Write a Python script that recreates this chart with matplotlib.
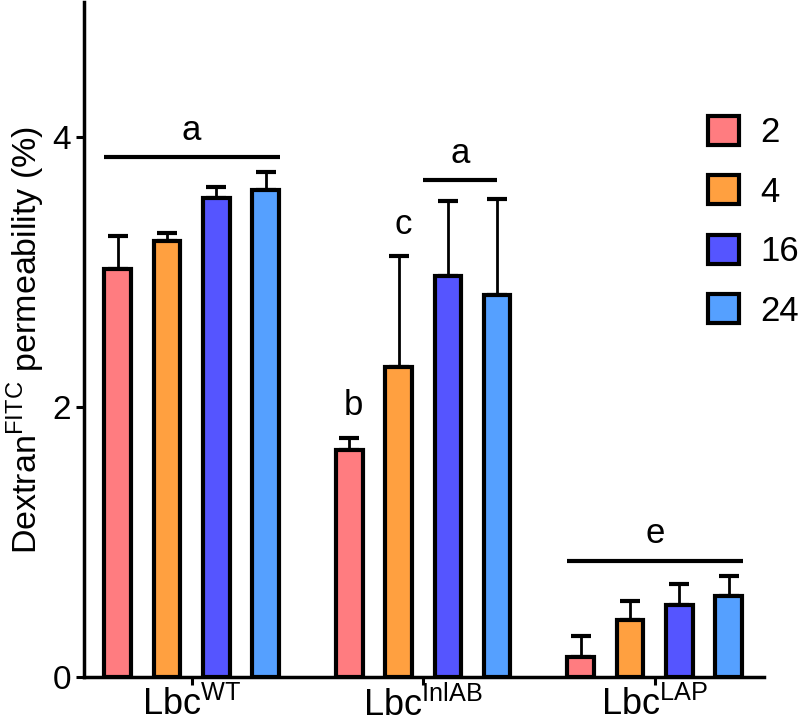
import matplotlib
matplotlib.use("Agg")
import matplotlib.pyplot as plt
import numpy as np
from matplotlib.patches import Patch

plt.rcParams['font.family'] = ['Liberation Sans', 'DejaVu Sans']

groups = ["Lbc$^{\\mathregular{WT}}$", "Lbc$^{\\mathregular{InlAB}}$", "Lbc$^{\\mathregular{LAP}}$"]
series = ["2", "4", "16", "24"]
colors = ["#FF7C80", "#FFA040", "#5555FF", "#55A0FF"]
means = {
    "2":  [3.02, 1.68, 0.15],
    "4":  [3.23, 2.30, 0.42],
    "16": [3.55, 2.97, 0.53],
    "24": [3.61, 2.83, 0.60],
}
errs = {
    "2":  [0.25, 0.09, 0.15],
    "4":  [0.06, 0.82, 0.14],
    "16": [0.08, 0.56, 0.16],
    "24": [0.13, 0.71, 0.15],
}
# significance annotations: (group, first bar, last bar, line level, letter)
sig_lines = [(0, 0, 3, 3.85, "a"), (1, 1.5, 3, 3.68, "a"), (2, 0, 3, 0.86, "e")]
sig_letters = [(1, 0, 2.01, "b"), (1, 1, 3.35, "c")]

fig = plt.figure(figsize=(8, 7.24), dpi=100)
ax = fig.add_axes([0.105, 0.065, 0.85, 0.932])

x = np.arange(len(groups))
step = 0.213
width = 0.115
offsets = (np.arange(len(series)) - 1.5) * step

for i, s in enumerate(series):
    pos = x + offsets[i]
    ax.bar(pos, means[s], width, color=colors[i], edgecolor='black', linewidth=3, zorder=2)
    ax.errorbar(pos, means[s], yerr=[np.zeros(len(groups)), errs[s]], fmt='none',
                ecolor='black', elinewidth=2, capsize=7, capthick=3, zorder=1)

for g, b0, b1, lvl, letter in sig_lines:
    def bx(b):
        return g + (b - 1.5) * step
    x0 = bx(b0) - (0.06 if b0 == int(b0) else 0)
    x1 = bx(b1) + (0.06 if b0 == int(b0) else 0)
    ax.plot([x0, x1], [lvl, lvl], color='black', lw=3, solid_capstyle='butt', clip_on=False)
    ax.text((x0 + x1) / 2, lvl + 0.08, letter, ha='center', va='bottom', fontsize=25)

for g, b, lvl, letter in sig_letters:
    ax.text(g + (b - 1.5) * step + 0.02, lvl, letter, ha='center', va='center', fontsize=25)

ax.set_ylim(0, 5)
ax.set_xlim(-0.465, 2.472)
ax.set_yticks([0, 2, 4])
ax.set_xticks(x)
ax.set_xticklabels(groups)
ax.tick_params(axis='y', labelsize=24, width=2.2, length=6, direction='out')
ax.tick_params(axis='x', labelsize=26, width=2.2, length=6, direction='out', pad=1)
for sp in ['top', 'right']:
    ax.spines[sp].set_visible(False)
for sp in ['left', 'bottom']:
    ax.spines[sp].set_linewidth(2.5)
ax.set_ylabel("Dextran$^{\\mathregular{FITC}}$ permeability (%)", fontsize=24.5, labelpad=4)

handles = [Patch(facecolor=c, edgecolor='black', linewidth=3) for c in colors]
fig.legend(handles, series, loc='upper left', bbox_to_anchor=(0.885, 0.840), frameon=False,
           fontsize=25, handlelength=0.9, handleheight=0.9, handletextpad=0.6,
           labelspacing=0.75, borderpad=0, borderaxespad=0)

fig.savefig("out.png", dpi=100)
